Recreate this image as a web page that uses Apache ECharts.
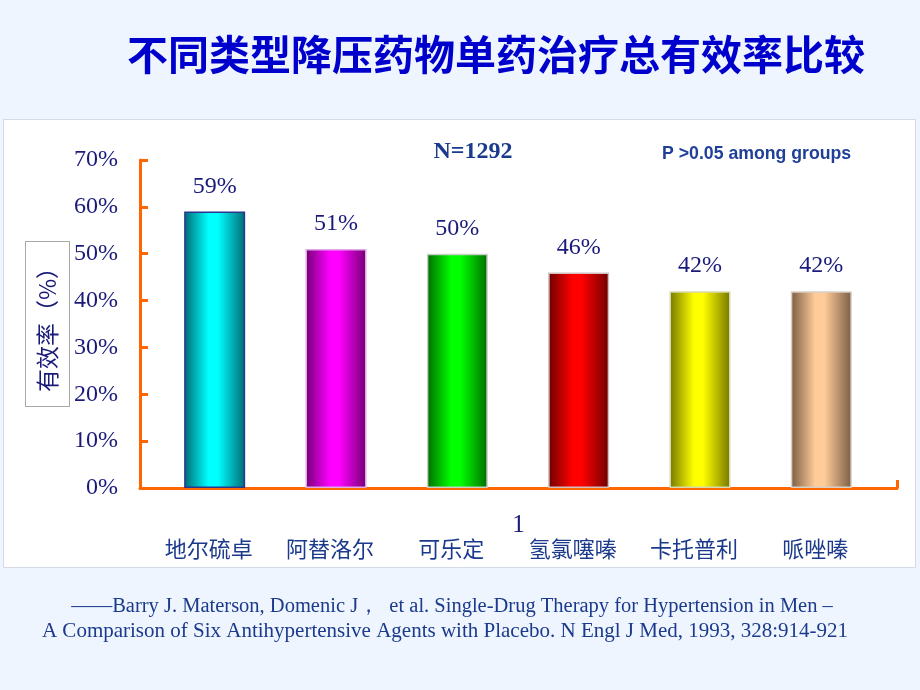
<!DOCTYPE html>
<html>
<head>
<meta charset="utf-8">
<script src="https://cdn.jsdelivr.net/npm/echarts@6/dist/echarts.min.js"></script>
<style>html,body{margin:0;padding:0;background:#EEF5FE}#c{width:920px;height:690px}</style>
</head>
<body>
<div id="c"></div>
<script>
var titleText = '不同类型降压药物单药治疗总有效率比较';
var categories = ['地尔硫卓', '阿替洛尔', '可乐定', '氢氯噻嗪', '卡托普利', '哌唑嗪'];
var values = [59, 51, 50, 46, 42, 42];
var groupCategory = ['1'];
var yAxisName = '有效率（%）';
var sampleText = 'N=1292';
var pText = 'P >0.05 among groups';
var citeLine1 = '——Barry J. Materson, Domenic J，  et al. Single-Drug Therapy for Hypertension in Men –';
var citeLine2 = 'A Comparison of Six Antihypertensive Agents with Placebo. N Engl J Med, 1993, 328:914-921';
var darkColors = ['#006a74', '#740074', '#006c00', '#6e0000', '#767600', '#7a5c44'];
var brightColors = ['#00ffff', '#ff00ff', '#00ff00', '#ff0000', '#ffff00', '#ffcc99'];
var borderColors = ['#2a3590', '#e0a8e8', '#c8d0c8', '#d0c0c0', '#d8d8b0', '#d8d0c8'];

var chart = echarts.init(document.getElementById('c'));
var navy = '#1a1a7a';
var blue = '#1b3a8c';
var orange = '#ff6600';

function grad(i) {
  return new echarts.graphic.LinearGradient(0, 0, 1, 0, [
    {offset: 0, color: darkColors[i]},
    {offset: 0.4, color: brightColors[i]},
    {offset: 0.55, color: brightColors[i]},
    {offset: 1, color: darkColors[i]}
  ]);
}

var option = {
  backgroundColor: '#EEF5FE',
  animation: false,
  title: {
    text: titleText,
    left: 122, top: 29,
    textStyle: {fontFamily: 'Noto Sans CJK SC', fontWeight: 'bold', fontSize: 41, color: '#0000cc'}
  },
  graphic: [
    {type: 'rect', z: -10, shape: {x: 3.5, y: 119.5, width: 912, height: 448},
     style: {fill: '#ffffff', stroke: '#d4dbe3', lineWidth: 1}},
    {type: 'text', x: 473, y: 152, style: {text: sampleText, fill: blue, font: 'bold 24px "Liberation Serif"', textAlign: 'center', textVerticalAlign: 'middle'}},
    {type: 'text', x: 662, y: 154, style: {text: pText, fill: '#1f3f99', font: 'bold 17.7px "Liberation Sans"', textAlign: 'left', textVerticalAlign: 'middle'}},
    {type: 'text', x: 452, y: 607, style: {text: citeLine1, fill: blue, font: '20.5px "Liberation Serif"', textAlign: 'center', textVerticalAlign: 'middle'}},
    {type: 'text', x: 445, y: 631, style: {text: citeLine2, fill: blue, font: '21px "Liberation Serif"', textAlign: 'center', textVerticalAlign: 'middle'}}
  ],
  grid: [
    {left: 140, right: 23, top: 160, bottom: 202},
    {left: 154, right: 38, top: 160, bottom: 202}
  ],
  xAxis: [
    {type: 'category', gridIndex: 0, data: groupCategory,
     axisLine: {lineStyle: {color: orange, width: 3}},
     axisTick: {show: true, inside: true, length: 8, lineStyle: {color: orange, width: 3}},
     axisLabel: {fontFamily: 'Liberation Serif', fontSize: 25, color: navy, margin: 25}},
    {type: 'category', gridIndex: 1, data: categories,
     axisLine: {show: false}, axisTick: {show: false},
     axisLabel: {fontFamily: 'Noto Sans CJK SC', fontSize: 22, color: blue, margin: 50, padding: [0, 12, 0, 0]}}
  ],
  yAxis: [
    {type: 'value', gridIndex: 0, min: 0, max: 70, interval: 10,
     name: yAxisName, nameLocation: 'middle', nameRotate: 90, nameGap: 71, nameMoveOverlap: false,
     nameTextStyle: {fontFamily: 'Noto Sans CJK SC', fontSize: 23, color: navy, borderColor: '#a8a8a8', borderWidth: 1, backgroundColor: '#ffffff', padding: [10, 14, 10, 14]},
     splitLine: {show: false},
     axisLine: {show: true, lineStyle: {color: orange, width: 3}},
     axisTick: {show: true, inside: true, length: 8, lineStyle: {color: orange, width: 3}},
     axisLabel: {formatter: '{value}%', fontFamily: 'Liberation Serif', fontSize: 24, color: navy, margin: 22}},
    {type: 'value', gridIndex: 1, min: 0, max: 70, interval: 10, show: false, splitLine: {show: false}}
  ],
  series: [{
    type: 'bar', xAxisIndex: 1, yAxisIndex: 1, barWidth: 61,
    data: values.map(function (v, i) {
      return {value: v, itemStyle: {color: grad(i), borderColor: borderColors[i], borderWidth: 1.5}};
    }),
    label: {show: true, position: 'top', distance: 13, formatter: '{c}%', fontFamily: 'Liberation Serif', fontSize: 24, color: navy}
  }]
};
chart.setOption(option);
</script>
</body>
</html>
